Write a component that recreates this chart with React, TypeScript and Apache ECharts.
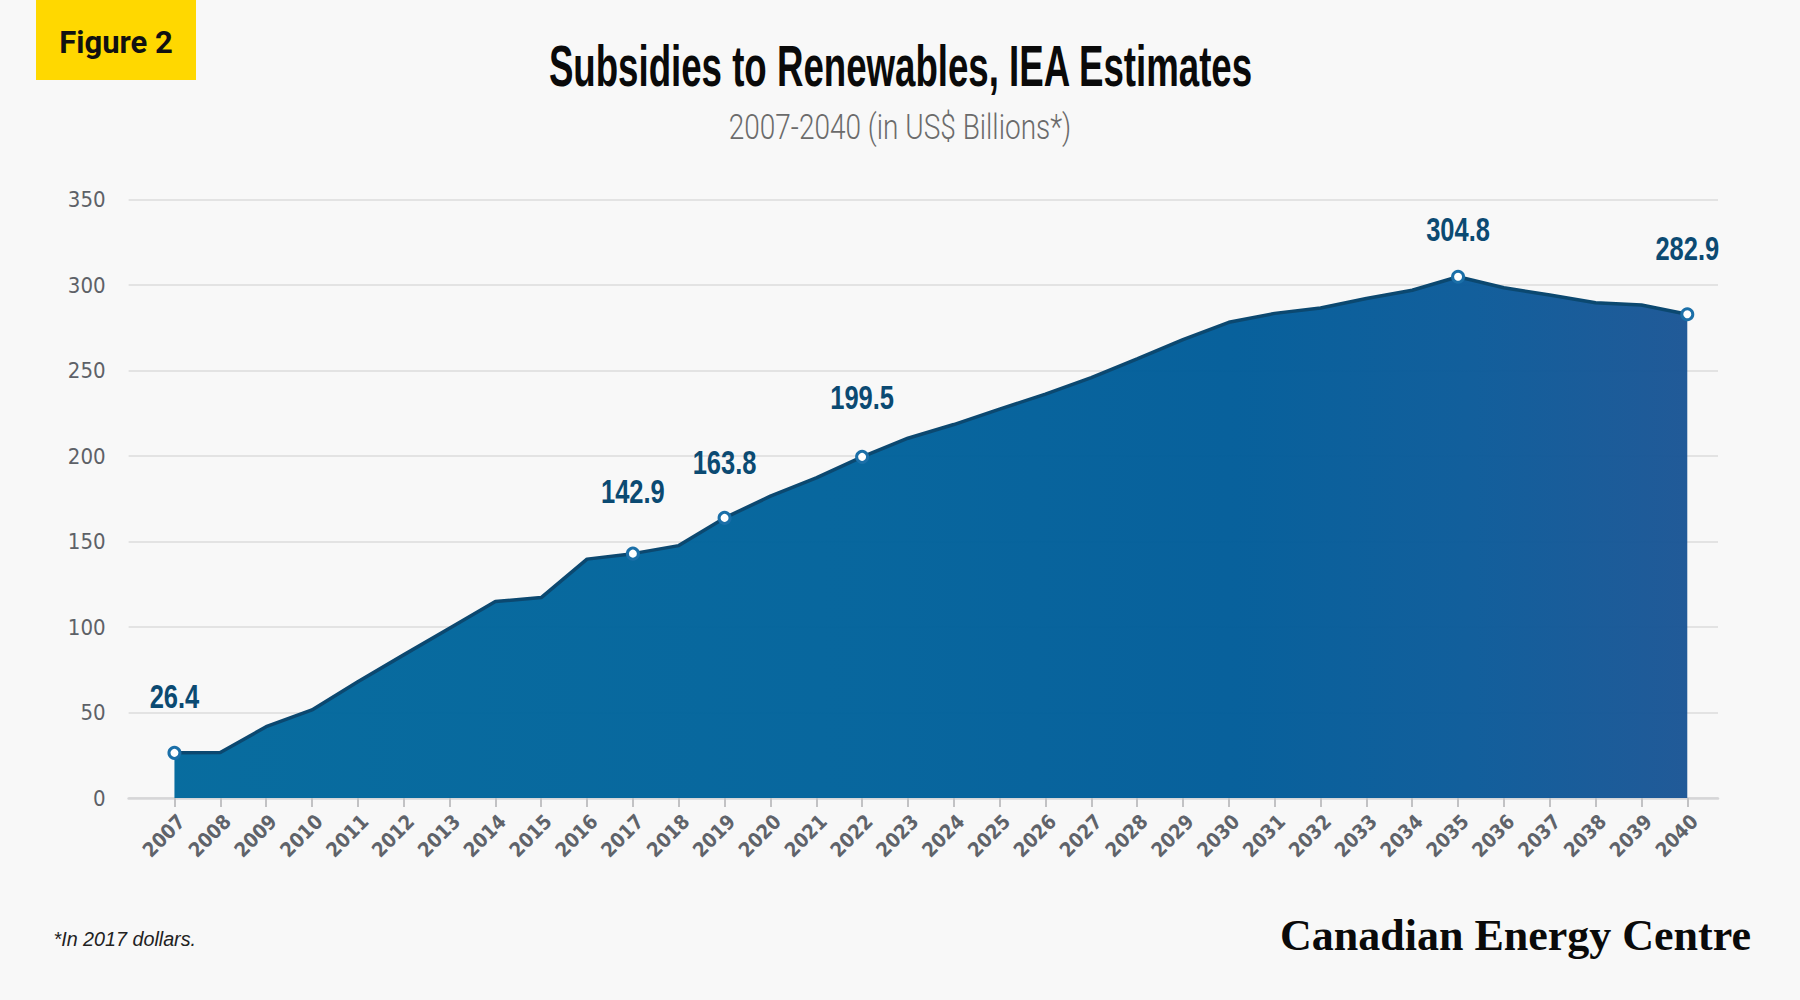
import React, { useEffect, useRef } from 'react';
import * as echarts from 'echarts';

const years = [
  2007, 2008, 2009, 2010, 2011, 2012, 2013, 2014, 2015, 2016, 2017, 2018,
  2019, 2020, 2021, 2022, 2023, 2024, 2025, 2026, 2027, 2028, 2029, 2030,
  2031, 2032, 2033, 2034, 2035, 2036, 2037, 2038, 2039, 2040,
];
const subsidies = [
  26.4, 26.6, 41.7, 51.5, 68.0, 83.7, 99.3, 114.9, 117.2, 139.7, 142.9, 147.6,
  163.8, 176.5, 187.2, 199.5, 210.4, 218.4, 227.4, 236.2, 245.8, 256.8, 268.0, 278.2,
  283.4, 286.6, 292.1, 296.9, 304.8, 298.4, 294.1, 289.6, 288.3, 282.9,
];
const labeledYears = [2007, 2017, 2019, 2022, 2035, 2040];

const titleText = 'Subsidies to Renewables, IEA Estimates';
const subtitleText = '2007-2040 (in US$ Billions*)';
const figureText = 'Figure 2';
const footnoteText = '*In 2017 dollars.';
const logoText = 'Canadian Energy Centre';

const NARROW = "'Liberation Sans Narrow', 'DejaVu Sans Condensed', 'Liberation Sans', sans-serif";

export default function App() {
  const ref = useRef<HTMLDivElement>(null);
  useEffect(() => {
    document.body.style.margin = '0';
    const chart = echarts.init(ref.current!, undefined, { renderer: 'svg', width: 1800, height: 1000 });
    // vertical offset (px) of each value label's centre above its point
    const labelGap: Record<number, number> = { 2007: 57, 2017: 63, 2019: 56, 2022: 60, 2035: 48, 2040: 66 };
    const seriesData = years.map((y, i) =>
      labeledYears.includes(y)
        ? { value: [y, subsidies[i]], symbol: 'circle', symbolSize: 11 }
        : { value: [y, subsidies[i]], symbol: 'none' },
    );
    const labelData = years
      .map((y, i) => [y, subsidies[i]])
      .filter((d) => labeledYears.includes(d[0]));

    const option: any = {
      animation: false,
      backgroundColor: '#f8f8f8',
      grid: { left: 128.6, right: 82, top: 199.5, bottom: 202, containLabel: false },
      xAxis: {
        type: 'value',
        min: 2006,
        max: 2040.67,
        interval: 1,
        splitLine: { show: false },
        axisLine: { show: true, lineStyle: { color: '#d6d6d8', width: 2.5 } },
        axisTick: {
          show: true,
          customValues: years,
          length: 9,
          lineStyle: { color: '#c2c2c4', width: 2 },
        },
        axisLabel: {
          customValues: years,
          rotate: 45,
          margin: 13,
          verticalAlign: 'top',
          color: '#5f636a',
          fontFamily: NARROW,
          fontWeight: 'bold',
          fontSize: 20,
          formatter: (v: number) => String(v),
        },
      },
      yAxis: {
        type: 'value',
        min: 0,
        max: 350,
        interval: 50,
        axisLine: { show: false },
        axisTick: { show: false },
        splitLine: { show: true, lineStyle: { color: '#dcdcdc', width: 1.5 } },
        axisLabel: {
          margin: 23,
          color: '#5d6167',
          fontFamily: NARROW,
          fontSize: 22,
        },
      },
      series: [
        {
          type: 'line',
          data: seriesData,
          symbol: 'circle',
          showSymbol: true,
          itemStyle: { color: '#ffffff', borderColor: '#1b6fa8', borderWidth: 3 },
          lineStyle: { color: '#0b4870', width: 3.5 },
          areaStyle: {
            opacity: 0.97,
            color: new echarts.graphic.LinearGradient(0, 0, 1, 0, [
              { offset: 0, color: '#00689c' },
              { offset: 0.45, color: '#00629b' },
              { offset: 0.7, color: '#005c99' },
              { offset: 0.86, color: '#0b5a99' },
              { offset: 1, color: '#1a5595' },
            ]),
          },
          z: 3,
        },
        {
          type: 'custom',
          data: labelData,
          silent: true,
          z: 5,
          renderItem: (params: any, api: any) => {
            const year = api.value(0);
            const val = api.value(1);
            const p = api.coord([year, val]);
            return {
              type: 'text',
              x: p[0],
              y: p[1] - (labelGap[year] ?? 60),
              scaleX: 0.75,
              style: {
                text: Number(val).toFixed(1),
                fontFamily: 'Liberation Sans',
                fontWeight: 'bold',
                fontSize: 34,
                fill: '#0b4a72',
                align: 'center',
                verticalAlign: 'middle',
              },
            };
          },
        },
      ],
      graphic: [
        { type: 'rect', shape: { x: 36, y: 0, width: 160, height: 80 }, style: { fill: '#ffd800' } },
        {
          type: 'text', x: 116, y: 42,
          style: { text: figureText, fontFamily: 'Roboto', fontWeight: 'bold', fontSize: 31, fill: '#111111', align: 'center', verticalAlign: 'middle' },
        },
        {
          type: 'text', x: 900.5, y: 66, scaleX: 0.632,
          style: { text: titleText, fontFamily: 'Liberation Sans', fontWeight: 'bold', fontSize: 58, fill: '#0a0a0a', align: 'center', verticalAlign: 'middle' },
        },
        {
          type: 'text', x: 900, y: 127.5, scaleX: 0.8,
          style: { text: subtitleText, fontFamily: 'Roboto', fontWeight: 300, fontSize: 35, fill: '#6b6b6b', align: 'center', verticalAlign: 'middle' },
        },
        {
          type: 'text', x: 53.5, y: 939, scaleX: 0.94,
          style: { text: footnoteText, fontFamily: 'Liberation Sans', fontStyle: 'italic', fontSize: 21, fill: '#222222', align: 'left', verticalAlign: 'middle' },
        },
        {
          type: 'text', x: 1751, y: 935,
          style: { text: logoText, fontFamily: 'Liberation Serif', fontWeight: 'bold', fontSize: 44, fill: '#0a0a0a', align: 'right', verticalAlign: 'middle' },
        },
      ],
    };
    chart.setOption(option);
    return () => chart.dispose();
  }, []);
  return <div ref={ref} style={{ width: 1800, height: 1000, position: 'absolute', left: 0, top: 0 }} />;
}
